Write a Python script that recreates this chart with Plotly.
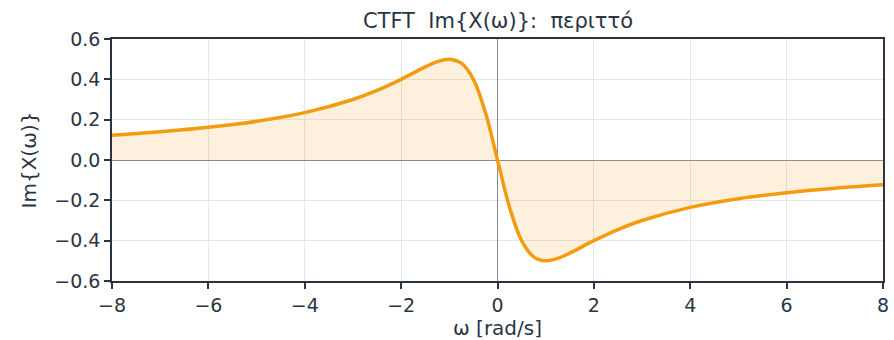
import plotly.graph_objects as go

# Imaginary part of the CTFT, sampled along the frequency axis
omega = [-8, -7, -6, -5, -4, -3, -2.5, -2, -1.5, -1.25, -1, -0.75, -0.5, -0.25,
         0, 0.25, 0.5, 0.75, 1, 1.25, 1.5, 2, 2.5, 3, 4, 5, 6, 7, 8]
im_x = [0.123, 0.140, 0.162, 0.192, 0.235, 0.300, 0.345, 0.400, 0.462, 0.488,
        0.500, 0.480, 0.400, 0.235, 0.0, -0.235, -0.400, -0.480, -0.500, -0.488,
        -0.462, -0.400, -0.345, -0.300, -0.235, -0.192, -0.162, -0.140, -0.123]

x_ticks = [-8, -6, -4, -2, 0, 2, 4, 6, 8]
y_ticks = [-0.6, -0.4, -0.2, 0.0, 0.2, 0.4, 0.6]

ORANGE = "#f39c12"
INK = "#2b3442"
FONT = "DejaVu Sans"

fig = go.Figure()
fig.add_trace(go.Scatter(
    x=omega, y=im_x, mode="lines",
    line=dict(color=ORANGE, width=3.5, shape="spline", smoothing=1.0),
    fill="tozeroy", fillcolor="rgba(243,156,18,0.15)",
    hoverinfo="skip", showlegend=False,
))

axis_common = dict(
    showline=True, linecolor=INK, linewidth=1.5, mirror=True,
    ticks="outside", ticklen=6, tickcolor=INK, tickwidth=1.5,
    showgrid=True, gridcolor="#e6e6e6", gridwidth=1,
    zeroline=True, zerolinecolor="#8a8a8a", zerolinewidth=1.2,
    tickfont=dict(family=FONT, size=19, color=INK),
    automargin=False,
)

fig.update_xaxes(
    range=[-8, 8], tickvals=x_ticks, ticktext=[f"{v}".replace("-", "−") for v in x_ticks],
    title=dict(text="ω [rad/s]", font=dict(family=FONT, size=20, color=INK), standoff=4),
    **axis_common,
)
fig.update_yaxes(
    range=[-0.6, 0.6], tickvals=y_ticks,
    ticktext=[f"{v:.1f}".replace("-", "−") for v in y_ticks],
    title=dict(text="Im{X(ω)}", font=dict(family=FONT, size=20, color=INK), standoff=12),
    **axis_common,
)

fig.update_layout(
    width=894, height=340,
    margin=dict(l=112, r=11, t=39, b=59),
    paper_bgcolor="white", plot_bgcolor="white",
    title=dict(text="CTFT\u00a0\u00a0Im{X(ω)}:\u00a0\u00a0περιττό", x=0.557, xanchor="center",
               y=0.94, yanchor="middle",
               font=dict(family=FONT, size=21, color=INK)),
    font=dict(family=FONT, color=INK),
)

fig.write_html("out.html")
